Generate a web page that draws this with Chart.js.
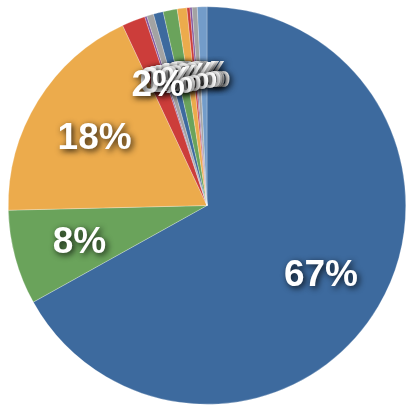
<!DOCTYPE html>
<html>
<head>
<meta charset="utf-8">
<script src="https://cdn.jsdelivr.net/npm/chart.js@4"></script>
<style>
    html, body { margin: 0; padding: 0; background: #ffffff; }
    #chart { display: block; }
</style>
</head>
<body>
<canvas id="chart" width="406" height="407"></canvas>
<script>
// slices, clockwise from 12 o'clock
const categories = ['A', 'B', 'C', 'D', 'E', 'F', 'G', 'H', 'I', 'J', 'K', 'L', 'M'];
const shares = [66.9, 7.7, 18.4, 1.9, 0.17, 0.56, 0.8, 1.14, 0.78, 0.25, 0.17, 0.42, 0.78];
const sliceColors = [
    '#3d6a9e', '#6aa35b', '#ecab4c', '#cc3d3a', '#7f529a', '#a3a3a3',
    '#3d6a9e', '#6aa35b', '#ecab4c', '#cc3d3a', '#7f529a', '#a3a3a3',
    '#739cc9'
];

// white percent labels with a soft dark drop shadow
// (drawn last slice first, so earlier labels sit on top)
const percentLabels = {
    id: 'percentLabels',
    afterDatasetsDraw(chart) {
        const ctx = chart.ctx;
        const meta = chart.getDatasetMeta(0);
        const data = chart.data.datasets[0].data;
        const total = data.reduce((a, b) => a + b, 0);
        ctx.save();
        ctx.font = 'bold 37px "Liberation Sans", Arial, sans-serif';
        ctx.textAlign = 'center';
        ctx.textBaseline = 'middle';
        ctx.fillStyle = '#ffffff';
        ctx.shadowColor = 'rgba(0, 0, 0, 0.85)';
        ctx.shadowBlur = 6;
        ctx.shadowOffsetX = 2;
        ctx.shadowOffsetY = 2;
        for (let i = meta.data.length - 1; i >= 0; i--) {
            const p = meta.data[i].getProps(['x', 'y', 'startAngle', 'endAngle', 'outerRadius'], true);
            const mid = (p.startAngle + p.endAngle) / 2;
            const r = p.outerRadius * 0.665;
            const label = Math.round(data[i] / total * 100) + '%';
            ctx.fillText(label, p.x + Math.cos(mid) * r, p.y + Math.sin(mid) * r + 3);
        }
        ctx.restore();
    }
};

new Chart(document.getElementById('chart'), {
    type: 'pie',
    data: {
        labels: categories,
        datasets: [{
            data: shares,
            backgroundColor: sliceColors,
            borderColor: 'rgba(255, 255, 255, 0.5)',
            borderWidth: 0.5
        }]
    },
    options: {
        responsive: false,
        animation: false,
        layout: { padding: { left: 8, right: 0, top: 6, bottom: 2 } },
        plugins: {
            legend: { display: false },
            tooltip: { enabled: false }
        }
    },
    plugins: [percentLabels]
});
</script>
</body>
</html>
